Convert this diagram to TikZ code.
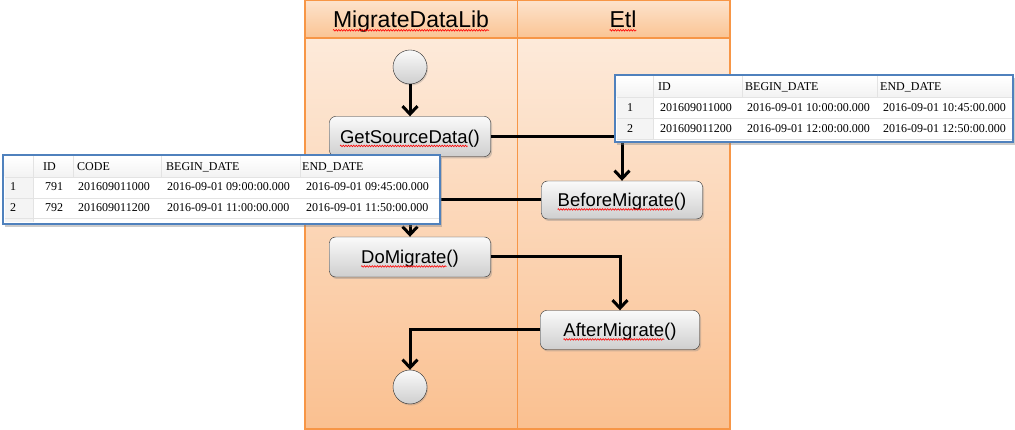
\documentclass[tikz,border=0pt]{standalone}
\usepackage{fontspec}
\newfontfamily\lanefont{Liberation Sans}
\newfontfamily\gridfont{Liberation Serif}
\usetikzlibrary{arrows.meta,shadows,decorations.pathmorphing}

\definecolor{laneline}{HTML}{F79646}
\definecolor{lanetop}{HTML}{FDEADA}
\definecolor{lanebottom}{HTML}{FAC090}
\definecolor{headtop}{HTML}{FDE3CD}
\definecolor{headbottom}{HTML}{FAC493}
\definecolor{gridblue}{HTML}{4F81BD}

\tikzset{
  lanehead/.style={anchor=base,font=\lanefont\fontsize{23}{26}\selectfont},
  action/.style={draw=black!85,rounded corners=6pt,top color=gray!4,bottom color=gray!38,
    minimum width=161pt,minimum height=40pt,text height=13.3pt,text depth=0pt,
    font=\lanefont\fontsize{18.5}{20}\selectfont,
    drop shadow={shadow xshift=1.5pt,shadow yshift=-2pt,opacity=.35}},
  state/.style={circle,draw=black!85,top color=gray!4,bottom color=gray!38,
    minimum size=34pt,inner sep=0pt,
    drop shadow={shadow xshift=1pt,shadow yshift=-1.5pt,opacity=.3}},
  flow/.style={line width=3pt,-{Straight Barb[length=8pt,width=15pt]}},
  spell/.style={draw=red,line width=.6pt,decorate,decoration={zigzag,amplitude=.8pt,segment length=2.6pt}},
  cell/.style={anchor=west,inner sep=0pt,text height=8.5pt,text depth=2pt,
    font=\gridfont\fontsize{12}{14}\selectfont},
  gridline/.style={gray!22,line width=.8pt},
  rownum/.style={fill=gray!9},
  frame/.style={draw=gridblue,line width=2.4pt}
}

\begin{document}
\begin{tikzpicture}[x=1pt,y=-1pt]
    \useasboundingbox (0,0) rectangle (1015,430);

    % swimlanes
    \shade[top color=lanetop,bottom color=lanebottom] (305,38) rectangle (730,430);
    \shade[top color=headtop,bottom color=headbottom] (305,0) rectangle (730,38);
    \draw[laneline,line width=1.2pt] (305,0.6) rectangle (730,429);
    \draw[laneline,line width=1.2pt] (305,38) -- (730,38);
    \draw[laneline,line width=1pt] (517,0) -- (517,429);
    \node[lanehead] (libhead) at (411,27.5) {MigrateDataLib};
    \node[lanehead] (etlhead) at (623,27.5) {Etl};

    % activities
    \node[state] (start) at (410,67) {};
    \node[action] (getsrc) at (410,136.5) {GetSourceData()};
    \node[action,minimum height=38pt] (before) at (622,200) {BeforeMigrate()};
    \node[action] (domig) at (410,257) {DoMigrate()};
    \node[action,minimum width=159pt,minimum height=39pt] (after) at (620,330) {AfterMigrate()};
    \node[state] (stop) at (410,387) {};

    % spell-check waves: node / half text width / word width
    \foreach \n/\h/\w in {libhead/78/156,etlhead/13.4/26.8,getsrc/69.9/127.5,
                          before/64.3/116.2,domig/48.8/85.3,after/56.5/100.8}
        \draw[spell] ([xshift=-\h pt,yshift=-2.8pt]\n.base) -- ++(\w pt,0pt);

    \draw[flow] (start) -- (getsrc);
    \draw[flow] (getsrc.east) -| (before.north);
    \draw[flow] (before.west) -| (domig.north);
    \draw[flow] (domig.east) -| (after.north);
    \draw[flow] (after.west) -| (stop.north);

    % source rows
    \fill[white,drop shadow={shadow xshift=2pt,shadow yshift=-3pt,opacity=.4}] (3,155) rectangle (440,224);
    \shade[top color=white,bottom color=gray!10] (4.5,156.5) rectangle (438.5,177);
    \fill[rownum] (4.5,177) rectangle (33,222.5);
    \draw[gridline] (4.5,177) -- (438.5,177) (4.5,198) -- (438.5,198) (4.5,218.5) -- (438.5,218.5);
    \foreach \x in {33,73,161,300}
        \draw[gridline] (\x,156.5) -- (\x,177);
    \draw[gridline] (33,177) -- (33,222.5);
    \draw[frame] (3,155) rectangle (440,224);
    \foreach \x/\t in {43/ID,77/CODE,166/BEGIN\_DATE,302/END\_DATE}
        \node[cell] (srchead\x) at (\x,167) {\t};
    \foreach \y/\n/\id/\code/\from/\to in {187.5/1/791/201609011000/2016-09-01 09:00:00.000/2016-09-01 09:45:00.000,
                                         208/2/792/201609011200/2016-09-01 11:00:00.000/2016-09-01 11:50:00.000}{
        \node[cell] (src\n num) at (10,\y) {\n};
        \node[cell] (src\n id) at (45,\y) {\id};
        \node[cell] (src\n code) at (78,\y) {\code};
        \node[cell] (src\n from) at (167,\y) {\from};
        \node[cell] (src\n to) at (306,\y) {\to};
    }

    % etl rows
    \fill[white,drop shadow={shadow xshift=2pt,shadow yshift=-3pt,opacity=.4}] (615,75) rectangle (1013,142);
    \shade[top color=white,bottom color=gray!10] (616.5,76.5) rectangle (1011.5,97);
    \fill[rownum] (616.5,97) rectangle (653,140.5);
    \draw[gridline] (616.5,97) -- (1011.5,97) (616.5,118) -- (1011.5,118) (616.5,139) -- (1011.5,139);
    \foreach \x in {653,742,877}
        \draw[gridline] (\x,76.5) -- (\x,97);
    \draw[gridline] (653,97) -- (653,140.5);
    \draw[frame] (615,75) rectangle (1013,142);
    \foreach \x/\t in {658/ID,745/BEGIN\_DATE,880/END\_DATE}
        \node[cell] (etlhead\x) at (\x,87.5) {\t};
    \foreach \y/\n/\id/\from/\to in {108/1/201609011000/2016-09-01 10:00:00.000/2016-09-01 10:45:00.000,
                                   129/2/201609011200/2016-09-01 12:00:00.000/2016-09-01 12:50:00.000}{
        \node[cell] (etl\n num) at (627,\y) {\n};
        \node[cell] (etl\n id) at (660,\y) {\id};
        \node[cell] (etl\n from) at (747,\y) {\from};
        \node[cell] (etl\n to) at (883,\y) {\to};
    }
\end{tikzpicture}
\end{document}
